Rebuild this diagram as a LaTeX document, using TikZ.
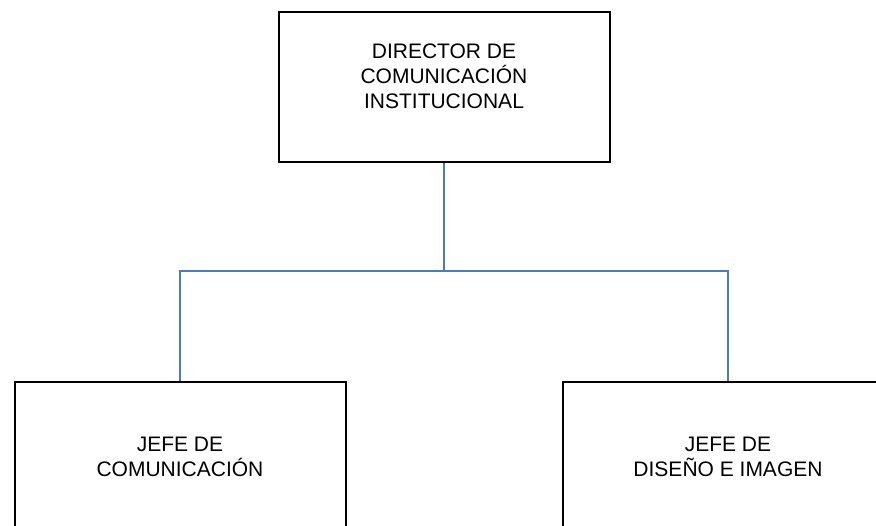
\documentclass[tikz,border=0pt]{standalone}
\usepackage{fontspec}
\setmainfont{Liberation Sans}
\usetikzlibrary{positioning}
\definecolor{linkblue}{RGB}{74,126,187}
\tikzset{
    box/.style={draw=black, line width=2pt, rectangle, inner sep=0pt},
    boxtext/.style={align=center, font=\fontsize{21}{25}\selectfont, inner sep=0pt},
    link/.style={draw=linkblue, line width=1.6pt}
}

\begin{document}
\begin{tikzpicture}[x=1pt, y=-1pt]
            \useasboundingbox (0,0) rectangle (876,526);
            \clip (0,0) rectangle (876,526);
            % cajas
            \node[box, minimum width=331, minimum height=150] (dir) at (444,87) {};
            \node[box, minimum width=331, minimum height=160, anchor=north] (jcom) at (180,381) {};
            \node[box, minimum width=330, minimum height=160, anchor=north] (jdis) at (728,381) {};
            % textos
            \node[boxtext] (dirtxt) at (444,76) {DIRECTOR DE\\COMUNICACIÓN\\INSTITUCIONAL};
            \node[boxtext] (jcomtxt) at (180,457) {JEFE DE\\COMUNICACIÓN};
            \node[boxtext] (jdistxt) at (728,457) {JEFE DE\\DISEÑO E IMAGEN};
            % conectores
            \coordinate (mid) at (444,271);
            \draw[link] (dir.south) -- (mid);
            \draw[link] (jcom.north) |- (mid) -| (jdis.north);
\end{tikzpicture}
\end{document}
